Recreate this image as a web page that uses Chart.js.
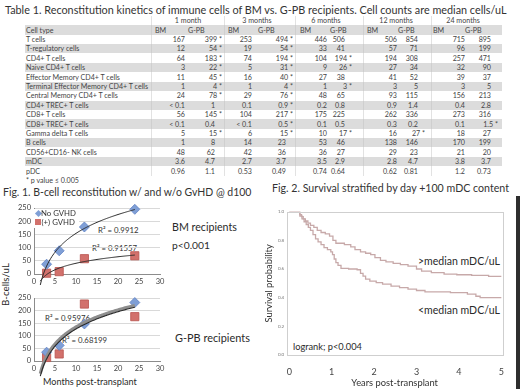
<!DOCTYPE html>
<html><head><meta charset="utf-8"><title>Immune reconstitution BM vs G-PB</title>
<script src="https://cdn.jsdelivr.net/npm/chart.js@4.4.1/dist/chart.umd.min.js"></script>
<style>
html,body{margin:0;padding:0;background:#fff}
body{position:relative;width:520px;height:389px;overflow:hidden;font-family:Lato,"Open Sans",sans-serif;color:#2a2a2a}
.t{position:absolute;white-space:nowrap}
canvas{position:absolute}
</style></head><body>
<script>
// ---------------- DATA ----------------
const tableTitle = 'Table 1. Reconstitution kinetics of immune cells of BM vs. G-PB recipients. Cell counts are median cells/uL';
const timepoints = ['1 month', '3 months', '6 months', '12 months', '24 months'];
const cellTypes = ['T cells', 'T-regulatory cells', 'CD4+ T cells', 'Naive CD4+ T cells', 'Effector Memory CD4+ T cells',
  'Terminal Effector Memory CD4+ T cells', 'Central Memory CD4+ T cells', 'CD4+ TREC+ T cells', 'CD8+ T cells',
  'CD8+ TREC+ T cells', 'Gamma delta T cells', 'B cells', 'CD56+CD16- NK cells', 'mDC', 'pDC'];
const bm1m  = ['167','12','64','3','11','1','24','< 0.1','56','< 0.1','5','1','48','3.6','0.96'];
const gpb1m = ['399 *','54 *','183 *','22 *','45 *','4 *','78 *','1','145 *','0.4','15 *','8','62','4.7','1.1'];
const bm3m  = ['253','19','74','5','16','1','29','0.1','104','< 0.1','6','14','42','2.7','0.53'];
const gpb3m = ['494 *','54 *','194 *','31 *','40 *','4 *','76 *','0.9 *','217 *','0.5 *','15 *','23','36','3.7','0.49'];
const bm6m  = ['446','33','104','9','27','1','48','0.2','175','0.1','10','53','36','3.5','0.74'];
const gpb6m = ['506','41','194 *','26 *','38','3 *','65','0.8','225','0.5','17 *','46','27','2.9','0.64'];
const bm12m = ['506','57','194','27','41','3','93','0.9','262','0.3','16','138','29','2.8','0.62'];
const gpb12m= ['854','71','308','34','52','5','115','1.4','336','0.2','27 *','146','23','4.7','0.81'];
const bm24m = ['715','96','257','32','39','3','156','0.4','273','0.1','18','170','21','3.8','1.2'];
const gpb24m= ['895','199','471','90','37','5','213','2.8','316','1.5 *','27','199','20','3.7','0.73'];
const footnote = '* p value \u2264 0.005';

// Fig. 1 B-cell reconstitution
const months = [3, 6, 12, 24];
const bmNoGvhd  = [37, 88, 178, 245];
const bmGvhd    = [3, 9, 58, 69];
const gpbNoGvhd = [35, 62, 147, 232];
const gpbGvhd   = [14, 28, 226, 176];
const monthTicks = [0, 5, 10, 15, 20, 25, 30];
const bcellTicks = [0, 50, 100, 150, 200, 250];
const r2Labels = ['R\u00b2 = 0.9912', 'R\u00b2 = 0.91557', 'R\u00b2 = 0.95976', 'R\u00b2 = 0.68199'];

// Fig. 2 Kaplan-Meier survival (years, probability)
const highT = [0,0.25,0.29,0.33,0.38,0.44,0.50,0.58,0.66,0.75,0.85,0.95,1.03,1.10,1.30,1.45,1.55,1.68,1.80,1.92,2.02,2.15,2.28,2.45,2.62,2.80,3.00,3.12,3.35,3.65,3.95,4.30,4.70,5.0];
const highS = [1.0,0.98,0.965,0.95,0.935,0.92,0.905,0.89,0.87,0.855,0.845,0.83,0.80,0.78,0.77,0.755,0.735,0.72,0.71,0.70,0.68,0.66,0.65,0.64,0.63,0.62,0.60,0.585,0.575,0.565,0.56,0.555,0.548,0.548];
const lowT = [0,0.25,0.30,0.35,0.40,0.45,0.50,0.56,0.62,0.68,0.75,0.82,0.90,0.98,1.02,1.06,1.10,1.15,1.22,1.40,1.60,1.68,1.74,1.80,1.90,2.05,2.20,2.40,2.60,2.80,3.00,3.20,3.80,4.20,4.40,4.50,5.0];
const lowS = [1.0,0.97,0.95,0.93,0.91,0.89,0.87,0.84,0.81,0.79,0.77,0.75,0.735,0.72,0.70,0.67,0.645,0.625,0.605,0.60,0.595,0.57,0.55,0.53,0.515,0.505,0.495,0.48,0.47,0.46,0.45,0.44,0.435,0.425,0.41,0.40,0.40];
const yearTicks = [0, 1, 2, 3, 4, 5];
const probTicks = [0, 0.2, 0.4, 0.6, 0.8, 1.0];

// ---------------- HELPERS ----------------
const FONT = 'Lato';
const mctx = document.createElement('canvas').getContext('2d');
function fitSize(text, width) { mctx.font = '20px ' + FONT; return 20 * width / mctx.measureText(text).width; }
function txt(s, x, cy, size, o) {
  o = o || {};
  const d = document.createElement('div');
  d.className = 't'; d.textContent = s;
  d.style.fontSize = size + 'px';
  const lh = Math.round(size * 1.3);
  d.style.lineHeight = lh + 'px';
  d.style.top = (cy - lh / 2) + 'px';
  if (o.align === 'right') d.style.right = (520 - x) + 'px';
  else if (o.align === 'center') { d.style.left = x + 'px'; d.style.transform = 'translateX(-50%)'; }
  else d.style.left = x + 'px';
  if (o.color) d.style.color = o.color;
  document.body.appendChild(d); return d;
}
function box(x, y, w, h, color) {
  const d = document.createElement('div');
  d.style.cssText = `position:absolute;left:${x}px;top:${y}px;width:${w}px;height:${h}px;background:${color}`;
  document.body.appendChild(d); return d;
}

// ---------------- TABLE ----------------
txt(tableTitle, 5, 10, fitSize(tableTitle, 503), {color: '#333'});
const tfs = fitSize('Terminal Effector Memory CD4+ T cells', 123);
const rowH = 9.4, firstCy = 39.4;
const rowCy = k => firstCy + k * rowH;
const tL = 25, tR = 502;
box(tL, 30 - rowH / 2, tR - tL, rowH, '#dcdcdc');
cellTypes.forEach((c, k) => { if (k % 2 === 1) box(tL, rowCy(k) - rowH / 2, tR - tL, rowH, '#dcdcdc'); });
[151, 224, 295, 363, 431].forEach(x => box(x, 16, 1, 160, 'rgba(190,190,190,0.45)'));

const grpCenter = [188, 257, 326, 396, 463];
const bmLabelX = [155, 228, 300, 367, 433];
const gpbLabelX = [188, 258, 330, 398, 465];
const bmRight = [185, 252, 327, 397, 465];
const gpbRight = [222, 293, 352, 425, 498];
const bmCols = [bm1m, bm3m, bm6m, bm12m, bm24m];
const gpbCols = [gpb1m, gpb3m, gpb6m, gpb12m, gpb24m];
const tc = '#444';
timepoints.forEach((tp, g) => {
  txt(tp, grpCenter[g], 20.7, tfs, {align: 'center', color: tc});
  txt('BM', bmLabelX[g], 30, tfs, {color: tc});
  txt('G-PB', gpbLabelX[g], 30, tfs, {color: tc});
});
txt('Cell type', 26, 30, tfs, {color: tc});
cellTypes.forEach((c, k) => {
  const cy = rowCy(k);
  txt(c, 26, cy, tfs, {color: tc});
  for (let g = 0; g < 5; g++) {
    txt(bmCols[g][k], bmRight[g], cy, tfs, {align: 'right', color: tc});
    const v = gpbCols[g][k];
    const star = v.endsWith('*');
    txt(v, star ? gpbRight[g] : gpbRight[g] - 7, cy, tfs, {align: 'right', color: tc});
  }
});
txt(footnote, 26, rowCy(15), tfs, {color: tc});

// ---------------- FIG TITLES / LABELS ----------------
const f1 = 'Fig. 1. B-cell reconstitution w/ and w/o GvHD @ d100';
const f2 = 'Fig. 2. Survival stratified by day +100 mDC content';
txt(f1, 3, 192, fitSize(f1, 249), {color: '#333'});
txt(f2, 272, 188, fitSize(f2, 238), {color: '#333'});
txt('BM recipients', 172, 227, fitSize('BM recipients', 65));
txt('p<0.001', 172, 245, fitSize('p<0.001', 38));
txt('G-PB recipients', 175, 338, fitSize('G-PB recipients', 75));
txt('Months post-transplant', 43, 382, fitSize('Months post-transplant', 94));
const yl = txt('B-cells/uL', 5, 284, fitSize('B-cells/uL', 43), {align: 'center'});
yl.style.transform = 'translateX(-50%) rotate(-90deg)';
const r2fs = fitSize(r2Labels[1], 45);
txt(r2Labels[0], 98, 229.5, r2fs, {color: '#333'});
txt(r2Labels[1], 92, 248, r2fs, {color: '#333'});
txt(r2Labels[2], 45, 317.7, r2fs, {color: '#333'});
txt(r2Labels[3], 62, 340, r2fs, {color: '#333'});
const mfs = fitSize('>median mDC/uL', 82);
txt('>median mDC/uL', 418, 260.7, mfs);
txt('<median mDC/uL', 418, 310, mfs);
txt('logrank; p<0.004', 293, 346.7, fitSize('logrank; p<0.004', 69));
box(516, 196, 4, 193, '#2e2e2e');

// ---------------- CHARTS ----------------
Chart.defaults.font.family = FONT;
Chart.defaults.animation = false;
Chart.defaults.responsive = false;
Chart.defaults.devicePixelRatio = 1;

function mkCanvas(x, y, w, h) {
  const c = document.createElement('canvas');
  c.width = w; c.height = h;
  c.style.left = x + 'px'; c.style.top = y + 'px';
  c.style.width = w + 'px'; c.style.height = h + 'px';
  document.body.appendChild(c); return c;
}
function logFit(xs, ys) {
  const lx = xs.map(Math.log), n = xs.length;
  const mx = lx.reduce((a, b) => a + b) / n, my = ys.reduce((a, b) => a + b) / n;
  let sxy = 0, sxx = 0;
  for (let i = 0; i < n; i++) { sxy += (lx[i] - mx) * (ys[i] - my); sxx += (lx[i] - mx) ** 2; }
  const a = sxy / sxx; return {a, b: my - a * mx};
}
function trendPts(xs, ys) {
  const f = logFit(xs, ys), pts = [];
  for (let x = 1.5; x <= 24.0001; x += 0.25) pts.push({x, y: f.a * Math.log(x) + f.b});
  return pts;
}
const blue = '#7f9fd6', blueEdge = '#5f82c4', red = '#d2716c', redEdge = '#b9534e';

function bcellChart(x, y, h, noG, g, trendStyles) {
  const cv = mkCanvas(x, y, 156, h);
  return new Chart(cv, {
    type: 'scatter',
    data: {datasets: [
      {label: 'No GVHD', data: months.map((m, i) => ({x: m, y: noG[i]})), pointStyle: 'rectRot', pointRadius: 5,
        backgroundColor: blue, borderColor: blueEdge, borderWidth: 0.8, clip: false, order: 2},
      {label: '(+) GVHD', data: months.map((m, i) => ({x: m, y: g[i]})), pointStyle: 'rect', pointRadius: 5.8,
        backgroundColor: red, borderColor: redEdge, borderWidth: 0.8, clip: false, order: 2},
      {label: 'trend1', type: 'line', data: trendPts(months, noG), borderColor: trendStyles[0].c, borderWidth: trendStyles[0].w,
        pointRadius: 0, fill: false, clip: false, order: trendStyles[0].o, tension: 0},
      {label: 'trend2', type: 'line', data: trendPts(months, g), borderColor: trendStyles[1].c, borderWidth: trendStyles[1].w,
        pointRadius: 0, fill: false, clip: false, order: trendStyles[1].o, tension: 0}
    ]},
    options: {
      layout: {padding: {left: 0, right: 10, top: 8, bottom: 0}},
      plugins: {legend: {display: false}, tooltip: {enabled: false}},
      scales: {
        x: {type: 'linear', min: 0, max: 30,
          afterBuildTicks: s => { s.ticks = monthTicks.map(v => ({value: v})); },
          ticks: {font: {size: 7.5}, color: '#444', padding: 3, maxRotation: 0},
          grid: {display: false, drawTicks: false}, border: {color: '#8c8c8c', width: 1},
          afterFit: s => { s.height = 18; }},
        y: {type: 'linear', min: 0, max: 250,
          afterBuildTicks: s => { s.ticks = bcellTicks.map(v => ({value: v})); },
          ticks: {font: {size: 7.5}, color: '#444', padding: 3},
          grid: {color: '#d9d9d9', drawTicks: false}, border: {color: '#8c8c8c', width: 1},
          afterFit: s => { s.width = 20; }}
      }
    }
  });
}
bcellChart(14, 200, 92, bmNoGvhd, bmGvhd, [{c: '#2a2a2a', w: 1, o: 1}, {c: '#2a2a2a', w: 1, o: 1}]);
bcellChart(14, 290, 89, gpbNoGvhd, gpbGvhd, [{c: '#8e8e8e', w: 3.2, o: 1}, {c: '#2a2a2a', w: 1.1, o: 0}]);

// legend (Fig. 1)
box(33, 209, 46, 19, '#fff');
const dia = box(35.5, 210.5, 5, 5, blue); dia.style.transform = 'rotate(45deg)';
box(34.5, 219, 6, 6, red);
const lfs = fitSize('No GVHD', 35);
txt('No GVHD', 41, 213.3, lfs, {color: '#333'});
txt('(+) GVHD', 41.5, 222.3, lfs, {color: '#333'});

// Fig. 2 survival
const frame = {id: 'frame', afterDatasetsDraw(c) {
  const a = c.chartArea, ctx = c.ctx; ctx.save(); ctx.strokeStyle = '#cfcfcf'; ctx.lineWidth = 1;
  ctx.strokeRect(Math.round(a.left) + 0.5, Math.round(a.top) + 0.5, Math.round(a.right - a.left), Math.round(a.bottom - a.top));
  ctx.restore(); }};
const sv = mkCanvas(262, 200, 254, 189);
const axTitle = fitSize('Years post-transplant', 86.7);
new Chart(sv, {
  type: 'scatter',
  data: {datasets: [
    {label: '>median mDC/uL', data: highT.map((t, i) => ({x: t, y: highS[i]})), showLine: true, stepped: true,
      borderColor: '#c7a9a9', borderWidth: 1.3, pointRadius: 0, fill: false},
    {label: '<median mDC/uL', data: lowT.map((t, i) => ({x: t, y: lowS[i]})), showLine: true, stepped: true,
      borderColor: '#c7a9a9', borderWidth: 1.3, pointRadius: 0, fill: false}
  ]},
  options: {
    layout: {padding: {left: 0, right: 9.3, top: 11.7, bottom: 0}},
    plugins: {legend: {display: false}, tooltip: {enabled: false}},
    scales: {
      x: {type: 'linear', min: -0.06, max: 5.03,
        afterBuildTicks: s => { s.ticks = yearTicks.map(v => ({value: v})); },
        ticks: {font: {size: 9}, color: '#444', padding: 12, maxRotation: 0},
        grid: {display: false, drawTicks: false}, border: {display: false},
        title: {display: true, text: 'Years post-transplant', font: {size: axTitle}, color: '#333', padding: {top: 0, bottom: 0.3}},
        afterFit: s => { s.height = 34; }},
      y: {type: 'linear', min: 0, max: 1,
        afterBuildTicks: s => { s.ticks = probTicks.map(v => ({value: v})); },
        ticks: {font: {size: 4.5}, color: '#777', padding: 2.5, callback: v => v.toFixed(1)},
        grid: {display: false, drawTicks: false}, border: {display: false},
        title: {display: true, text: 'Survival probability', font: {size: axTitle}, color: '#333', padding: {top: 1.7, bottom: 0}},
        afterFit: s => { s.width = 24.7; }}
    }
  },
  plugins: [frame]
});
</script>
</body></html>
